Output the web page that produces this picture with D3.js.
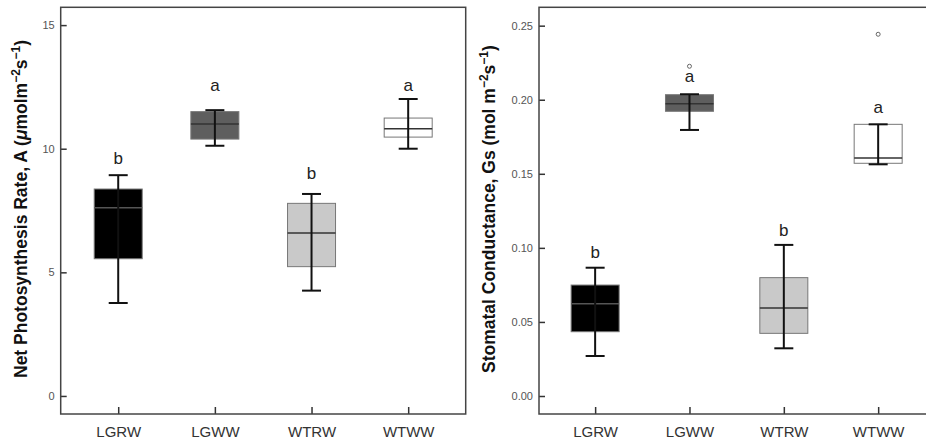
<!DOCTYPE html>
<html lang="en">
<head>
    <meta charset="utf-8">
    <title>Photosynthesis and stomatal conductance</title>
    <script src="https://d3js.org/d3.v7.min.js"></script>
</head>
<body style="margin:0;background:#fff">
<div id="chart"></div>
<script>
// groups on the x axis
var groups = ["LGRW", "LGWW", "WTRW", "WTWW"];

// net photosynthesis rate A, box summary per group
var aMin = [3.76, 10.12, 4.26, 10.0];
var aQ1 = [5.55, 10.39, 5.23, 10.47];
var aMed = [7.61, 11.0, 6.59, 10.81];
var aQ3 = [8.37, 11.5, 7.79, 11.24];
var aMax = [8.93, 11.56, 8.17, 12.01];
var aOutliers = [[], [], [], []];
var aLetters = ["b", "a", "b", "a"];
var aLetterY = [9.38, 12.33, 8.77, 12.33];
var aTicks = [0, 5, 10, 15];

// stomatal conductance Gs
var gMin = [0.027, 0.1796, 0.0322, 0.1564];
var gQ1 = [0.0434, 0.1922, 0.0423, 0.1571];
var gMed = [0.0623, 0.1973, 0.0594, 0.1607];
var gQ3 = [0.0749, 0.2034, 0.0799, 0.1834];
var gMax = [0.0866, 0.2037, 0.102, 0.1834];
var gOutliers = [[], [0.2226], [], [0.2442]];
var gLetters = ["b", "a", "b", "a"];
var gLetterY = [0.0931, 0.212, 0.108, 0.191];
var gTicks = [0, 0.05, 0.10, 0.15, 0.20, 0.25];

var boxFill = ["#000", "#5e5e5e", "#c9c9c9", "#fff"];
var medColor = ["#555", "#333", "#333", "#333"];

var svg = d3.select("#chart").append("svg")
    .attr("width", 926).attr("height", 443)
    .style("font-family", "'Liberation Sans', Arial, sans-serif");

function panel(o) {
    var x = d3.scalePoint().domain(groups)
        .range([o.left, o.right]).padding(0.595);
    var y = d3.scaleLinear().domain(o.domain).range([o.bottom, o.top]);
    var g = svg.append("g");

    var yAxis = g.append("g")
        .attr("transform", "translate(" + o.left + ",0)")
        .call(d3.axisLeft(y).tickValues(o.ticks).tickFormat(d3.format(o.fmt))
            .tickSize(-6).tickPadding(6));
    yAxis.select(".domain").remove();
    yAxis.selectAll("line").attr("stroke", "#333").attr("stroke-width", 1.5);
    yAxis.selectAll("text").attr("fill", "#555").style("font-size", "11px");

    var xAxis = g.append("g")
        .attr("transform", "translate(0," + o.bottom + ")")
        .call(d3.axisBottom(x).tickSize(-7).tickPadding(12));
    xAxis.select(".domain").remove();
    xAxis.selectAll("line").attr("stroke", "#333").attr("stroke-width", 1.5);
    xAxis.selectAll("text").attr("fill", "#333").style("font-size", "15px");

    var bw = 48, cw = 19;
    groups.forEach(function (name, i) {
        var cx = x(name);
        g.append("rect")
            .attr("x", cx - bw / 2).attr("y", y(o.q3[i]))
            .attr("width", bw).attr("height", y(o.q1[i]) - y(o.q3[i]))
            .attr("fill", boxFill[i]).attr("stroke", "#777").attr("stroke-width", 1);
        g.append("line")
            .attr("x1", cx - bw / 2).attr("x2", cx + bw / 2)
            .attr("y1", y(o.med[i])).attr("y2", y(o.med[i]))
            .attr("stroke", medColor[i]).attr("stroke-width", 1.5);
        g.append("line")
            .attr("x1", cx).attr("x2", cx)
            .attr("y1", y(o.min[i])).attr("y2", y(o.max[i]))
            .attr("stroke", "#111").attr("stroke-width", 2);
        [o.min[i], o.max[i]].forEach(function (v) {
            g.append("line")
                .attr("x1", cx - cw / 2).attr("x2", cx + cw / 2)
                .attr("y1", y(v)).attr("y2", y(v))
                .attr("stroke", "#111").attr("stroke-width", 2);
        });
        o.out[i].forEach(function (v) {
            g.append("circle").attr("cx", cx).attr("cy", y(v)).attr("r", 2)
                .attr("fill", "none").attr("stroke", "#666").attr("stroke-width", 1);
        });
        g.append("text").attr("x", cx).attr("y", y(o.letterY[i]))
            .attr("text-anchor", "middle").attr("fill", "#222")
            .style("font-size", "17px").text(o.letters[i]);
    });

    // frame
    g.append("rect")
        .attr("x", o.left).attr("y", o.top)
        .attr("width", o.right - o.left).attr("height", o.bottom - o.top)
        .attr("fill", "none").attr("stroke", "#444").attr("stroke-width", 1.5);

    // axis title with superscripts
    var t = g.append("text")
        .attr("transform", "translate(" + o.titleX + "," + o.titleY + ") rotate(-90)")
        .attr("fill", "#111").style("font-size", "17.5px").style("font-weight", "bold");
    o.title.forEach(function (part) {
        var ts = t.append("tspan").text(part[0]);
        if (part[1] === "sup") ts.attr("dy", -7).style("font-size", "12px");
        else if (part[1] === "down") ts.attr("dy", 7);
        else if (part[1] === "it") ts.style("font-style", "italic");
    });
}

panel({
    left: 60.7, right: 465.7, top: 7.3, bottom: 414,
    domain: [-0.73, 15.72], ticks: aTicks, fmt: "d",
    min: aMin, q1: aQ1, med: aMed, q3: aQ3, max: aMax, out: aOutliers,
    letters: aLetters, letterY: aLetterY,
    titleX: 27, titleY: 378,
    title: [["Net Photosynthesis Rate, A ("], ["\u03bc", "it"], ["molm"], ["\u22122", "sup"],
            ["s", "down"], ["\u22121", "sup"], [")", "down"]]
});

panel({
    left: 539, right: 934.3, top: 7.3, bottom: 414,
    domain: [-0.01215, 0.2624], ticks: gTicks, fmt: ".2f",
    min: gMin, q1: gQ1, med: gMed, q3: gQ3, max: gMax, out: gOutliers,
    letters: gLetters, letterY: gLetterY,
    titleX: 495, titleY: 373,
    title: [["Stomatal Conductance, Gs (mol m"], ["\u22122", "sup"], ["s", "down"],
            ["\u22121", "sup"], [")", "down"]]
});
</script>
</body>
</html>
